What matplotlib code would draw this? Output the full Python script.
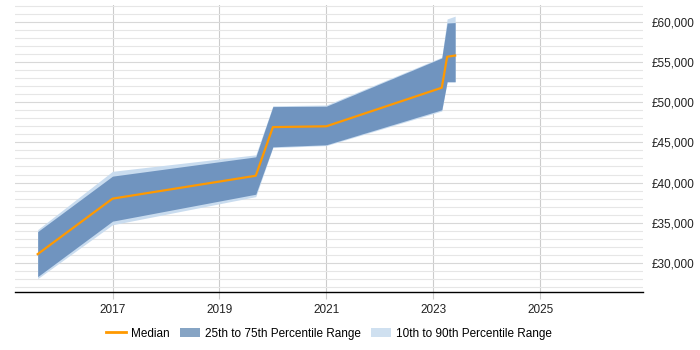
import numpy as np
import matplotlib
matplotlib.use("Agg")
import matplotlib.pyplot as plt
from matplotlib.patches import Patch
from matplotlib.lines import Line2D
from matplotlib.ticker import FuncFormatter, MultipleLocator

plt.rcParams['font.family'] = ['Liberation Sans', 'DejaVu Sans']

# data
years = [2015.60, 2017.00, 2019.68, 2020.00, 2021.00, 2023.16, 2023.26, 2023.41]
median = [31100, 38000, 40850, 46900, 47000, 51800, 55650, 55800]
p25 = [28300, 35200, 38550, 44450, 44700, 49050, 52550, 52550]
p75 = [33900, 40800, 43200, 49450, 49500, 55500, 59850, 59900]
p10 = [28050, 34750, 38250, 44350, 44600, 48900, 52500, 52500]
p90 = [34150, 41400, 43450, 49550, 49650, 55600, 60350, 60700]

c_med = "#ff9900"
c_iqr = "#7094bf"
c_out = "#c9dcef"

fig = plt.figure(figsize=(7, 3.5), dpi=100)
ax = fig.add_axes([0.021, 0.166, 0.898, 0.82])

ax.fill_between(years, p10, p90, color=c_out, lw=0, zorder=2)
ax.fill_between(years, p25, p75, color=c_iqr, lw=0, zorder=3)
ax.plot(years, median, color=c_med, lw=1.6, zorder=4)

ax.set_xlim(2015.17, 2026.93)
ax.set_ylim(26400, 62100)
ax.set_xticks([2017, 2019, 2021, 2023, 2025])
ax.yaxis.set_major_locator(MultipleLocator(5000))
ax.yaxis.set_minor_locator(MultipleLocator(1000))
ax.yaxis.set_major_formatter(FuncFormatter(lambda v, p: "£{:,.0f}".format(v)))
ax.yaxis.tick_right()
ax.tick_params(axis="y", which="both", length=0, labelsize=8.5, pad=6, colors="#222222")
ax.tick_params(axis="x", length=5, color="#cccccc", labelsize=8.5, colors="#222222")

ax.grid(axis="x", color="#cccccc", lw=0.8, zorder=0)
ax.grid(axis="y", which="major", color="#d8d8d8", lw=0.8, zorder=0)
ax.grid(axis="y", which="minor", color="#e6e6e6", lw=0.8, zorder=0)
ax.set_axisbelow(True)
for s in ["top", "left", "right"]:
    ax.spines[s].set_visible(False)
ax.spines["bottom"].set_color("#000000")
ax.spines["bottom"].set_linewidth(1)

handles = [
    Line2D([], [], color=c_med, lw=2),
    Patch(facecolor="#86a4c4", edgecolor="none"),
    Patch(facecolor="#cfe0f0", edgecolor="none"),
]
labels = ["Median", "25th to 75th Percentile Range", "10th to 90th Percentile Range"]
fig.legend(handles, labels, loc="center", bbox_to_anchor=(0.47, 0.047), ncol=3,
           frameon=False, fontsize=8.5, handlelength=1.7, handletextpad=0.45,
           columnspacing=0.85)

fig.savefig("out.png", dpi=100)
